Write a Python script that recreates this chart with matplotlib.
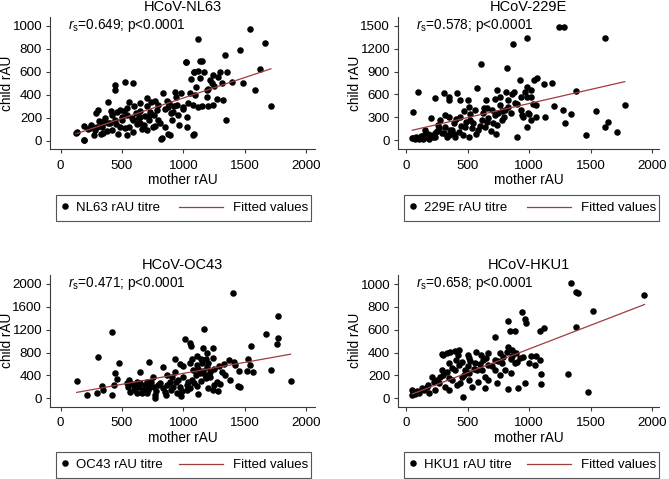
import matplotlib
matplotlib.use("Agg")
from matplotlib import pyplot as plt
from matplotlib.patches import Rectangle

plt.rcParams['font.family'] = ['Liberation Sans', 'DejaVu Sans']
plt.rcParams['mathtext.fontset'] = 'custom'
plt.rcParams['mathtext.rm'] = 'Liberation Sans'
plt.rcParams['mathtext.it'] = 'Liberation Sans:italic'

# ---- data (mother rAU, child rAU) ----
nl63_mother = [1538, 1118, 1660, 1458, 1337, 1021, 1139, 1625, 1351, 1087, 1118, 1483, 1580, 1712, 1344, 1083, 819, 878, 191, 135,
               442, 442, 524, 586, 388, 301, 288, 190, 125, 193, 271, 347, 415, 483, 543,
               705, 768, 646, 836, 931, 944, 876, 781, 727, 646, 646, 592, 537, 483, 497, 442, 388, 334, 266, 239,
               795, 849, 903, 958, 1026, 1026, 1080, 822, 890, 754, 700, 592, 524, 917, 999, 1080, 1121, 1093, 1188, 1243,
               1188, 1229, 1134, 1270, 1319, 1392,
               220, 250, 280, 310, 340, 360, 380, 400, 420, 450, 470, 500, 520, 560, 580, 600, 620, 650, 680, 700,
               720, 740, 760, 790, 810, 850, 870, 900, 940, 960, 980, 1000, 1040, 1060, 1100, 1150, 1200, 1250, 1280,
               1300, 1170, 1200, 300, 330, 350, 410, 460, 540, 560, 610, 630, 660, 690, 730, 770, 880, 920, 1050,
               1020, 1148, 1085, 1237, 1215, 1310]
nl63_child = [974, 884, 855, 792, 748, 690, 696, 626, 603, 603, 609, 502, 444, 307, 183, 58, 20, 58, 9, 75,
              487, 444, 510, 508, 342, 270, 241, 130, 72, 9, 52, 67, 96, 125, 52,
              371, 351, 328, 420, 429, 313, 299, 270, 226, 212, 154, 183, 226, 270, 212, 183, 154, 139, 125, 110,
              183, 125, 183, 226, 212, 125, 52, 23, 52, 125, 96, 81, 110, 255, 299, 313, 293, 400, 386, 313,
              444, 502, 545, 362, 357, 516,
              100, 140, 95, 170, 120, 200, 90, 160, 230, 150, 60, 180, 260, 120, 200, 300, 150, 260, 140, 300,
              180, 340, 230, 310, 160, 280, 350, 240, 380, 140, 420, 280, 330, 540, 470, 300, 300, 480, 560,
              600, 600, 450, 120, 60, 170, 260, 250, 290, 340, 240, 190, 100, 220, 250, 130, 330, 300, 420,
              690, 699, 603, 574, 531, 502]

e229_mother = [1242, 1288, 987, 866, 1615, 607, 817, 59, 94, 239, 306, 347, 347, 414, 436, 207, 503, 508, 575, 648,
               656, 736, 723, 812, 831, 874, 884, 925, 933, 965, 1019, 1040, 1067, 1118, 1188, 1019, 938, 943, 992,
               1013, 987, 1059, 1059, 1132, 1202, 1274, 1296, 1341, 1382, 1462, 1543, 1615, 1645, 1712, 1777, 903, 728,
               51, 78, 105, 132, 164, 199, 239, 266, 280, 306, 320, 347, 374, 387, 401, 427, 441, 462, 481, 508,
               521, 548, 562, 589, 616, 629, 643, 669, 702, 710, 750, 763, 777, 804, 239, 158, 320,
               60, 70, 85, 95, 115, 120, 140, 150, 175, 190, 220, 250, 260, 290, 330, 350, 360, 390, 410, 450,
               470, 490, 520, 540, 570, 600, 630, 660, 690, 720, 740, 760, 780, 800, 830, 850, 860, 900, 950,
               980, 1000, 1030, 980]
e229_child = [1482, 1482, 1338, 1263, 1346, 1000, 952, 373, 636, 557, 614, 561, 526, 614, 526, 285, 526, 439, 680, 526,
              417, 658, 544, 636, 526, 636, 482, 789, 561, 636, 658, 789, 811, 737, 745, 570, 395, 329, 351,
              263, 175, 461, 307, 307, 447, 395, 219, 338, 649, 66, 386, 175, 241, 101, 461, 35, 75,
              22, 22, 9, 44, 35, 66, 88, 154, 263, 88, 175, 66, 132, 219, 44, 110, 307, 66, 175, 44,
              263, 219, 395, 132, 263, 351, 175, 285, 395, 219, 351, 461, 263, 395, 44, 132, 329,
              30, 15, 40, 25, 30, 55, 20, 60, 80, 20, 40, 120, 200, 90, 40, 300, 130, 80, 270, 180,
              380, 240, 340, 160, 80, 180, 420, 240, 120, 330, 200, 560, 380, 300, 440, 350, 600, 480, 300,
              700, 340, 480, 560]

oc43_mother = [1403, 1768, 416, 1167, 1672, 1768, 1758, 1013, 1054, 1058, 1550, 1162, 1238, 1189, 307, 473, 722, 931,
               972, 1066, 1243, 1371, 1414, 1528, 1541, 1455, 1514, 1569, 1710, 1872, 131, 212, 293, 334, 347, 415,
               442, 461, 431, 559, 551, 564, 605, 646, 646, 673, 700, 727, 754, 768, 768, 795, 836, 849, 863, 890,
               917, 944, 931, 958, 1026, 1026, 1053, 1066, 1080, 1107, 1121, 1134, 1175, 1189, 1202, 1216, 1243,
               1270, 1284, 1311, 1338, 1378, 1419, 1446, 1460,
               580, 600, 620, 640, 660, 690, 710, 740, 760, 780, 810, 830, 870, 900, 910, 940, 970, 990, 1000,
               1040, 1090, 1100, 1120, 1140, 1150, 1160, 1180, 1200, 1220, 1250, 1140, 1110, 1180, 1000, 1290,
               1330, 1050, 1110, 860, 980, 1250, 1300, 700, 620, 540]
oc43_child = [1848, 1441, 1155, 1207, 1120, 1050, 951, 1032, 974, 916, 922, 875, 875, 787, 717, 624, 636, 694,
              601, 682, 700, 671, 642, 682, 583, 484, 484, 467, 496, 303, 303, 58, 88, 216, 146, 58,
              449, 332, 233, 321, 193, 117, 204, 467, 262, 146, 292, 204, 379, 58, 0, 233, 554, 117, 408, 292,
              204, 88, 467, 321, 233, 146, 175, 321, 496, 583, 70, 437, 408, 554, 175, 467, 146,
              292, 134, 467, 408, 321, 583, 216, 204,
              250, 150, 280, 200, 100, 240, 150, 280, 200, 120, 260, 180, 240, 150, 380, 280, 200, 120, 380,
              280, 260, 400, 520, 300, 620, 480, 360, 620, 380, 520, 680, 740, 680, 560, 560,
              600, 620, 220, 60, 40, 240, 250, 100, 90, 260]

hku1_mother = [1341, 1382, 1395, 1938, 1519, 946, 970, 973, 825, 844, 884, 723, 1382, 1091, 1121, 1314, 1476, 1099, 1099,
               965, 911, 831, 462, 51, 51, 132, 212, 293, 293, 360, 395, 433, 347, 406, 454, 508, 567, 629, 669, 723,
               763, 817, 831, 863, 897, 925, 1019, 1059, 1046, 1086, 535, 642, 723, 737, 642, 575, 508, 454, 374, 320,
               266, 239, 185, 347, 414, 481, 562, 616, 669, 777, 804, 884, 857, 763, 669, 589, 508, 441, 105, 172,
               226, 280, 333, 374,
               70, 90, 150, 180, 250, 300, 350, 400, 430, 470, 500, 520, 550, 600, 650, 700, 750, 790, 850, 900,
               950, 1000, 860, 420, 610, 500, 300, 330]
hku1_child = [1006, 933, 918, 904, 764, 758, 691, 662, 679, 589, 589, 539, 621, 592, 612, 210, 52, 210, 125,
              131, 87, 79, 9, 73, 29, 87, 190, 248, 388, 408, 417, 423, 306, 335, 321, 350, 408, 335, 394, 335,
              394, 408, 452, 423, 394, 350, 370, 370, 292, 335, 102, 87, 248, 131, 190, 248, 219, 190, 160, 102,
              131, 73, 44, 73, 117, 248, 306, 248, 292, 306, 248, 306, 219, 204, 160, 146, 160, 131, 44, 102,
              146, 190, 233, 262,
              40, 60, 70, 120, 160, 200, 180, 250, 290, 200, 280, 330, 260, 300, 350, 280, 330, 360, 340, 320,
              360, 310, 370, 380, 380, 380, 380, 400]

# fitted line (slope, intercept)
fits = {
    'NL63': (0.3563, 17.5),
    '229E': (0.370, 110.0),
    'OC43': (0.3837, 53.0),
    'HKU1': (0.4148, 17.0),
}

titles = ['HCoV-NL63', 'HCoV-229E', 'HCoV-OC43', 'HCoV-HKU1']
names = ['NL63', '229E', 'OC43', 'HKU1']
stats = ['0.649', '0.578', '0.471', '0.658']
yticks = [[0, 200, 400, 600, 800, 1000],
          [0, 300, 600, 900, 1200, 1500],
          [0, 400, 800, 1200, 1600, 2000],
          [0, 200, 400, 600, 800, 1000]]
ylims = [(-70, 1078), (-118, 1618), (-147, 2157), (-73, 1079)]
xticks = [0, 500, 1000, 1500, 2000]
xs = [nl63_mother, e229_mother, oc43_mother, hku1_mother]
ys = [nl63_child, e229_child, oc43_child, hku1_child]

W, H = 669, 479
fig = plt.figure(figsize=(W / 100, H / 100), dpi=100)

# axes boxes in pixels: left, right, top, bottom
boxes = [(50, 315, 17, 149), (398, 659, 17, 149),
         (50, 315, 275, 406.7), (398, 659, 275, 406.7)]
xlims = [(-86, 2071), (-65, 2056), (-86, 2071), (-65, 2056)]
leg_boxes = [(56, 195), (404, 195), (56, 452), (404, 452)]  # left, top of legend box

axis_col = '#3a3a3a'
fit_col = '#a03c3c'

for i in range(4):
    l, r, t, b = boxes[i]
    ax = fig.add_axes([l / W, 1 - b / H, (r - l) / W, (b - t) / H])
    sc = ax.scatter(xs[i], ys[i], s=22, color='black', linewidths=0, zorder=2)
    slope, icpt = fits[names[i]]
    xf = [min(xs[i]), max(xs[i])]
    yf = [slope * v + icpt for v in xf]
    ln, = ax.plot(xf, yf, color=fit_col, lw=0.9, zorder=3)

    ax.set_xlim(xlims[i])
    ax.set_ylim(ylims[i])
    ax.set_xticks(xticks)
    ax.set_yticks(yticks[i])
    for s in ['top', 'right']:
        ax.spines[s].set_visible(False)
    for s in ['left', 'bottom']:
        ax.spines[s].set_color(axis_col)
        ax.spines[s].set_linewidth(0.8)
    ax.tick_params(direction='out', length=3.2, width=0.8, color=axis_col, labelsize=9.6)
    ax.tick_params(axis='y', pad=2.5)
    ax.tick_params(axis='x', pad=4.5)

    ax.set_ylabel('child rAU', fontsize=9.8, va='center')
    ax.yaxis.set_label_coords(-0.162 if i % 2 == 0 else -0.166, 0.5)
    ax.set_xlabel('mother rAU', fontsize=9.8, va='center')
    ax.xaxis.set_label_coords(0.5, -0.235)

    ax.text(0.5, 1.078, titles[i], transform=ax.transAxes, ha='center', va='center', fontsize=10.5)
    ax.text(0.068, 0.935, r'$r_{\mathrm{s}}$=' + stats[i] + '; p<0.0001', transform=ax.transAxes,
            ha='left', va='center', fontsize=9.8)

    # legend: box with two entries
    lx, ly = leg_boxes[i]
    lw_, lh = 255, 26
    yc = 1 - (ly + lh / 2) / H
    fig.add_artist(Rectangle((lx / W, 1 - (ly + lh) / H), lw_ / W, lh / H, transform=fig.transFigure,
                             fill=False, edgecolor='#555555', lw=0.8))
    leg1 = ax.legend([sc], [names[i] + ' rAU titre'], loc='center left',
                     bbox_to_anchor=((lx + 3.5) / W, yc), bbox_transform=fig.transFigure,
                     frameon=False, borderpad=0, borderaxespad=0, handlelength=0.8, handletextpad=0.45,
                     scatterpoints=1, scatteryoffsets=[0.6], fontsize=9.5)
    ax.add_artist(leg1)
    ax.legend([ln], ['Fitted values'], loc='center right',
              bbox_to_anchor=((lx + 252) / W, yc), bbox_transform=fig.transFigure,
              frameon=False, borderpad=0, borderaxespad=0, handlelength=3.33, handletextpad=0.76,
              fontsize=9.5)

fig.savefig('out.png', dpi=100)
